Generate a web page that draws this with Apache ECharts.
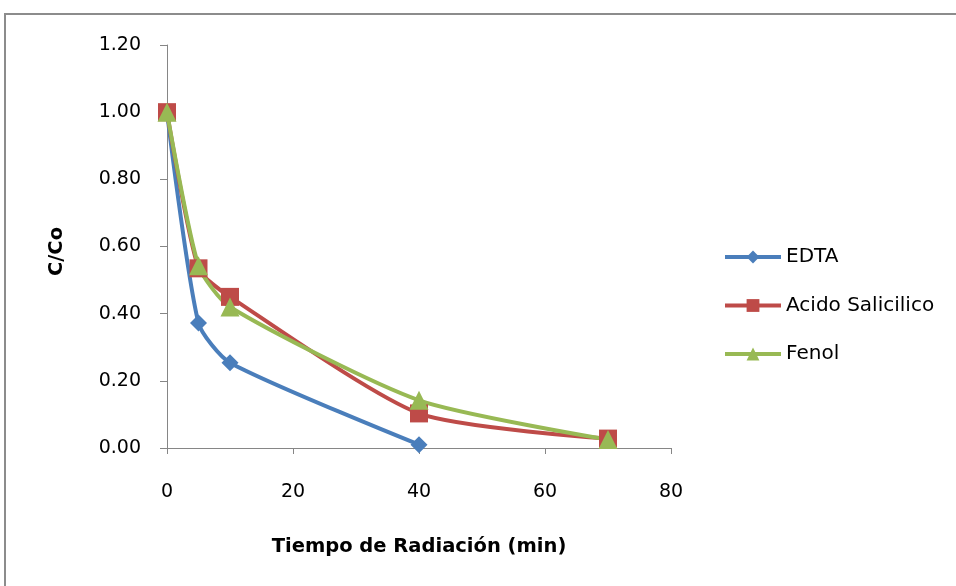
<!DOCTYPE html>
<html>
<head>
<meta charset="utf-8">
<script src="https://cdn.jsdelivr.net/npm/echarts@6/dist/echarts.min.js"></script>
<style>
  html, body { margin: 0; padding: 0; background: #fff; }
  #chart { width: 956px; height: 586px; }
</style>
</head>
<body>
<div id="chart"></div>
<script>
// Concentration ratio C/Co versus radiation time for each compound
const edtaX = [0, 5, 10, 40];
const edtaY = [1.00, 0.372, 0.254, 0.01];
const salicilicoX = [0, 5, 10, 40, 70];
const salicilicoY = [1.00, 0.535, 0.45, 0.103, 0.028];
const fenolX = [0, 5, 10, 40, 70];
const fenolY = [1.00, 0.543, 0.42, 0.142, 0.025];
const seriesNames = ['EDTA', 'Acido Salicilico', 'Fenol'];
const yTicks = [0, 0.2, 0.4, 0.6, 0.8, 1.0, 1.2];
const xTicks = [0, 20, 40, 60, 80];

const pairs = (xs, ys) => xs.map((x, i) => [x, ys[i]]);
const font = 'DejaVu Sans';

const chart = echarts.init(document.getElementById('chart'), null, { renderer: 'canvas' });

const lineSeries = (name, data, color, symbol, size) => ({
  name: name,
  type: 'line',
  data: data,
  smooth: 0.22,
  symbol: symbol,
  symbolSize: size,
  lineStyle: { color: color, width: 4 },
  itemStyle: { color: color },
  z: 3
});

chart.setOption({
  animation: false,
  backgroundColor: '#fff',
  graphic: [{
    type: 'rect',
    shape: { x: 5, y: 14, width: 1000, height: 620 },
    style: { fill: 'none', stroke: '#8c8c8c', lineWidth: 2 },
    silent: true
  }],
  grid: { left: 167, right: 285, top: 45, bottom: 138 },
  xAxis: {
    type: 'value',
    min: xTicks[0],
    max: xTicks[xTicks.length - 1],
    interval: 20,
    name: 'Tiempo de Radiación (min)',
    nameLocation: 'middle',
    nameGap: 89,
    nameTextStyle: { fontFamily: font, fontSize: 19.5, fontWeight: 'bold', color: '#000' },
    axisLine: { lineStyle: { color: '#868686', width: 1 } },
    axisTick: { show: true, length: 6, inside: false, lineStyle: { color: '#868686' } },
    axisLabel: { fontFamily: font, fontSize: 19, color: '#000', margin: 35 },
    splitLine: { show: false }
  },
  yAxis: {
    type: 'value',
    min: yTicks[0],
    max: yTicks[yTicks.length - 1],
    interval: 0.2,
    name: 'C/Co',
    nameLocation: 'middle',
    nameGap: 100,
    nameRotate: 90,
    nameTextStyle: { fontFamily: font, fontSize: 19.5, fontWeight: 'bold', color: '#000',
                     padding: [0, 10, 0, 0] },
    axisLine: { show: true, lineStyle: { color: '#868686', width: 1 } },
    axisTick: { show: true, length: 7, inside: false, lineStyle: { color: '#868686' } },
    axisLabel: { fontFamily: font, fontSize: 19, color: '#000', margin: 26,
                 formatter: v => v.toFixed(2) },
    splitLine: { show: false }
  },
  legend: {
    orient: 'vertical',
    left: 718,
    top: 242,
    itemWidth: 56,
    itemHeight: 16,
    itemGap: 28.5,
    lineStyle: { width: 4 },
    textStyle: { fontFamily: font, fontSize: 20, color: '#000' },
    data: seriesNames
  },
  series: [
    lineSeries(seriesNames[0], pairs(edtaX, edtaY), '#4A7EBB', 'diamond', 17),
    lineSeries(seriesNames[1], pairs(salicilicoX, salicilicoY), '#BE4B48', 'rect', 18),
    lineSeries(seriesNames[2], pairs(fenolX, fenolY), '#98B954', 'triangle', 19)
  ]
});
</script>
</body>
</html>
